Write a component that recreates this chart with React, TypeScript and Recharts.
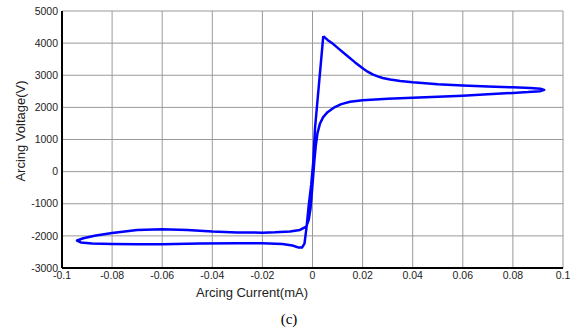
import React from "react"
import {
  LineChart,
  Line,
  XAxis,
  YAxis,
  CartesianGrid,
} from "recharts"

// arc loop traced in drawing order, starting at the voltage peak
const currentMA = [
  0.0043, 0.006, 0.0083, 0.011, 0.0137, 0.017, 0.0203, 0.022, 0.024, 0.026,
  0.028, 0.031, 0.035, 0.04, 0.05, 0.06, 0.07, 0.08, 0.087, 0.091,
  0.0925, 0.091, 0.086, 0.08, 0.07, 0.06, 0.05, 0.04, 0.03, 0.02,
  0.015, 0.0115, 0.0085, 0.006, 0.0042, 0.003, 0.002, 0.0013, 0.0007, 0.0002,
  -0.0003, -0.0008, -0.0015, -0.0025, -0.005, -0.009, -0.015, -0.02, -0.03, -0.04,
  -0.05, -0.06, -0.07, -0.08, -0.087, -0.0915, -0.094, -0.0925, -0.088, -0.08,
  -0.07, -0.06, -0.045, -0.03, -0.02, -0.012, -0.008, -0.0055, -0.0042, -0.0032,
  -0.0024, -0.0015, -0.0005, 0.0003, 0.001, 0.0043,
]

const voltageV = [
  4220, 4100, 3970, 3790, 3615, 3400, 3200, 3110, 3025, 2965,
  2915, 2865, 2820, 2780, 2720, 2680, 2650, 2625, 2605, 2580,
  2545, 2505, 2475, 2450, 2405, 2365, 2330, 2300, 2270, 2225,
  2175, 2100, 1990, 1850, 1690, 1500, 1200, 800, 300, -200,
  -700, -1150, -1500, -1710, -1815, -1865, -1890, -1900, -1895, -1865,
  -1815, -1790, -1815, -1910, -1995, -2075, -2145, -2205, -2240, -2255,
  -2260, -2258, -2240, -2230, -2230, -2250, -2300, -2365, -2365, -2240,
  -1750, -1050, -400, 300, 1350, 4220,
]

const xTicks = [-0.1, -0.08, -0.06, -0.04, -0.02, 0, 0.02, 0.04, 0.06, 0.08, 0.1]
const yTicks = [-3000, -2000, -1000, 0, 1000, 2000, 3000, 4000, 5000]

const data = currentMA.map((x, i) => ({ x, v: voltageV[i] }))

const sans = "'Liberation Sans', Arial, sans-serif"
const tickStyle = { fontSize: 10.5, fill: "#222", fontFamily: sans }

export default function App() {
  return (
    <div
      style={{
        position: "absolute",
        left: 0,
        top: 0,
        width: 576,
        height: 329,
        background: "#fff",
      }}
    >
      <LineChart
        width={576}
        height={300}
        data={data}
        margin={{ top: 11, right: 13, left: 0, bottom: 0 }}
      >
        <CartesianGrid xAxisId="b" yAxisId="l" stroke="#9a9a9a" strokeWidth={1} />
        <XAxis
          xAxisId="b"
          dataKey="x"
          type="number"
          domain={[-0.1, 0.1]}
          ticks={xTicks}
          allowDataOverflow
          height={32}
          tickLine={false}
          tickSize={0}
          tickMargin={4}
          axisLine={{ stroke: "#000", strokeWidth: 2 }}
          tick={tickStyle}
          interval={0}
        />
        <XAxis
          xAxisId="t"
          dataKey="x"
          type="number"
          orientation="top"
          domain={[-0.1, 0.1]}
          height={0}
          tick={false}
          tickLine={false}
          axisLine={{ stroke: "#000", strokeWidth: 1.5 }}
        />
        <YAxis
          yAxisId="l"
          type="number"
          domain={[-3000, 5000]}
          ticks={yTicks}
          allowDataOverflow
          width={62}
          tickLine={false}
          tickSize={0}
          tickMargin={4}
          axisLine={{ stroke: "#000", strokeWidth: 2 }}
          tick={tickStyle}
          interval={0}
        />
        <YAxis
          yAxisId="r"
          type="number"
          orientation="right"
          domain={[-3000, 5000]}
          width={0}
          tick={false}
          tickLine={false}
          axisLine={{ stroke: "#000", strokeWidth: 1.5 }}
        />
        <Line
          xAxisId="b"
          yAxisId="l"
          type="linear"
          dataKey="v"
          stroke="#0000ff"
          strokeWidth={2.5}
          strokeLinejoin="round"
          dot={false}
          activeDot={false}
          isAnimationActive={false}
        />
      </LineChart>
      <div
        style={{
          position: "absolute",
          left: 20,
          top: 131,
          transform: "translate(-50%, -50%) rotate(-90deg)",
          whiteSpace: "nowrap",
          fontFamily: sans,
          fontSize: 13,
          color: "#222",
        }}
      >
        Arcing Voltage(V)
      </div>
      <div
        style={{
          position: "absolute",
          left: 252,
          top: 292,
          transform: "translate(-50%, -50%)",
          whiteSpace: "nowrap",
          fontFamily: sans,
          fontSize: 13,
          color: "#222",
        }}
      >
        Arcing Current(mA)
      </div>
      <div
        style={{
          position: "absolute",
          left: 289,
          top: 319,
          transform: "translate(-50%, -50%)",
          whiteSpace: "nowrap",
          fontFamily: "'Liberation Serif', 'Times New Roman', serif",
          fontSize: 15,
          color: "#000",
        }}
      >
        (c)
      </div>
    </div>
  )
}
